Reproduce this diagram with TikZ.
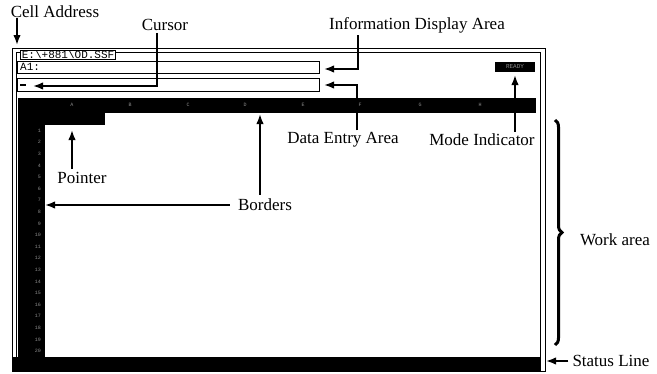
\documentclass[tikz,border=0pt]{standalone}
\usepackage{fontspec}
\setmainfont{Liberation Serif}
\setmonofont{Liberation Mono}
\usetikzlibrary{arrows.meta,decorations.pathreplacing}
\tikzset{
  lbl/.style={font=\fontsize{17}{17}\selectfont, inner sep=0pt},
  arr/.style={line width=1.8pt, -{Latex[length=10pt,width=7.5pt]}},
  frame/.style={line width=0.9pt},
  blk/.style={fill=black, draw=none},
  scr/.style={font=\ttfamily\fontsize{11}{11}\selectfont, inner sep=0pt},
  tiny/.style={font=\ttfamily\fontsize{5}{5}\selectfont, text=black!45, inner sep=0pt}
}
\begin{document}
\begin{tikzpicture}[x=1pt,y=-1pt]
\useasboundingbox (0,0) rectangle (657,373);
% screen frame
\draw[frame] (12,48) rectangle (545,371);
\draw[frame] (16,52) rectangle (540,371);
% black areas
\fill[blk] (18,98) rectangle (536,113);
\fill[blk] (18,98) rectangle (45,358);
\fill[blk] (45,113) rectangle (105,125);
\fill[blk] (12,357) rectangle (541,371);
\fill[blk] (495,62) rectangle (535,72);
% title tab
\node[scr, draw, fill=white, line width=0.8pt, inner xsep=1.5pt, inner ysep=0.5pt, anchor=west] (tab) at (20,55) {E:\textbackslash+881\textbackslash OD.SSF};
% information display box and data entry box
\draw[line width=1pt] (17,61) rectangle (319,73);
\node[scr, anchor=west] (a1) at (20,67) {A1:};
\draw[line width=1pt] (17,78) rectangle (319,91);
\draw[line width=2pt] (20,85) -- (26,85);
% mode indicator text
\node[tiny, font=\ttfamily\fontsize{6}{6}\selectfont] (ready) at (515,67) {READY};
% column letters
\foreach \c/\x in {A/72,B/130,C/188,D/245,E/303,F/360,G/420,H/480}
  \node[tiny] (col\c) at (\x,105) {\c};
% row numbers
\foreach \r in {1,...,20}
  \node[tiny, anchor=east] (row\r) at (41,{119+11.6*\r}) {\r};
% coordinates for arrow tips
\coordinate (celltip) at (17,45);
\coordinate (curtip) at (33,86);
\coordinate (infotip) at (324,69);
\coordinate (datatip) at (324,85);
\coordinate (modetip) at (515,75);
\coordinate (ptrtip) at (72,130);
\coordinate (bordtipL) at (45,205);
\coordinate (bordtipU) at (260,114);
\coordinate (stattip) at (546,361);
% labels
\node[lbl] (cell) at (55,12) {Cell Address};
\node[lbl] (cursor) at (165,25) {Cursor};
\node[lbl] (info) at (417,25) {Information Display Area};
\node[lbl] (data) at (343,140) {Data Entry Area};
\node[lbl] (mode) at (482,140) {Mode Indicator};
\node[lbl] (ptr) at (82,178) {Pointer};
\node[lbl] (bord) at (265,205) {Borders};
\node[lbl] (work) at (615,240) {Work area};
\node[lbl] (stat) at (611,361) {Status Line};
% connectors
\draw[arr] (cell.south -| celltip) -- (celltip);
\draw[arr] ([xshift=-8pt,yshift=-2pt]cursor.south) |- (curtip);
\draw[arr] ([xshift=-59pt,yshift=-2pt]info.south) |- (infotip);
\draw[arr] ([xshift=14pt,yshift=2pt]data.north) |- (datatip);
\draw[arr] ([yshift=2pt]mode.north -| modetip) -- (modetip);
\draw[arr] ([yshift=3pt]ptr.north -| ptrtip) -- (ptrtip);
\draw[arr] ([xshift=-8pt]bord.west) -- (bordtipL);
\draw[arr] ([yshift=4pt]bord.north -| bordtipU) -- (bordtipU);
\draw[arr] ([xshift=-4pt]stat.west) -- (stattip);
\draw[line width=3pt, decorate, decoration={brace, amplitude=7pt}] (555,120) -- (555,345);
\end{tikzpicture}
\end{document}
